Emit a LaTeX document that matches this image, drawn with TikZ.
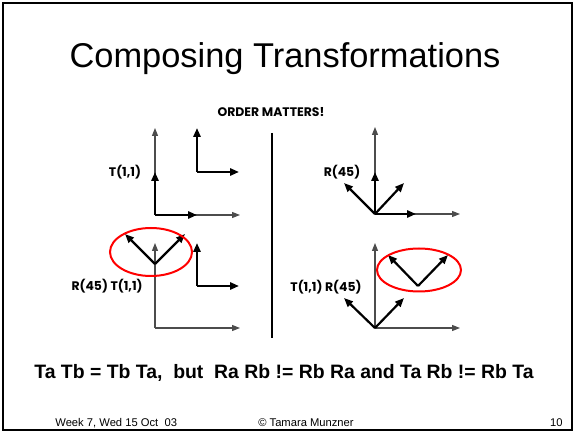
\documentclass[tikz,border=0pt]{standalone}
\usepackage{fontspec}
\setmainfont{Liberation Sans}
\newfontfamily\lblfont{Poppins}
\usetikzlibrary{arrows.meta,shapes.geometric}

\begin{document}
\begin{tikzpicture}[
x=0.5pt,y=-0.5pt,
axis/.style={-{Triangle[length=4pt,width=3pt]},line width=0.55pt,black!70},
frm/.style={-{Triangle[length=4.5pt,width=3.6pt]},line width=1.1pt},
lbl/.style={font=\lblfont\bfseries\fontsize{6.2}{7}\selectfont,inner sep=0pt},
foot/.style={font=\fontsize{5.6}{7}\selectfont,inner sep=0pt},
hilite/.style={draw=red,line width=1pt,ellipse,inner sep=0pt}]
\useasboundingbox (0,0) rectangle (574,433);
\draw[line width=1pt] (2.5,3.5) rectangle (571.5,429.5);
\node[anchor=base,font=\fontsize{17.2}{20}\selectfont] (title) at (285,68) {Composing Transformations};
\node[lbl] (order) at (271,112) {ORDER MATTERS!};
% top left
\coordinate (a0) at (155,215);
\coordinate (a0x) at (240,215);
\coordinate (a0y) at (155,128);
\coordinate (a1x) at (197,215);
\coordinate (a1y) at (155,172);
\coordinate (b0) at (197,172);
\coordinate (b0x) at (239,172);
\coordinate (b0y) at (197,128);
\draw[axis] (a0)--(a0x);
\draw[axis] (a0)--(a0y);
\draw[frm] (a0)--(a1x);
\draw[frm] (a0)--(a1y);
\draw[frm] (b0)--(b0x);
\draw[frm] (b0)--(b0y);
\node[lbl] (t11) at (125,172) {T(1,1)};
% bottom left
\coordinate (c0) at (155,328);
\coordinate (c0x) at (240,328);
\coordinate (c0y) at (155,243);
\coordinate (c1) at (155,264);
\coordinate (c1l) at (125,234);
\coordinate (c1r) at (185,234);
\coordinate (d0) at (197,286);
\coordinate (d0x) at (239,286);
\coordinate (d0y) at (197,243);
\draw[axis] (c0)--(c0x);
\draw[axis] (c0)--(c0y);
\draw[frm] (c1)--(c1l);
\draw[frm] (c1)--(c1r);
\draw[frm] (d0)--(d0x);
\draw[frm] (d0)--(d0y);
\node[hilite,minimum width=41pt,minimum height=24pt] (ring1) at (151,252) {};
\node[lbl,anchor=east] (r45t11) at (143,286) {R(45) T(1,1)};
% top right
\coordinate (e0) at (375,214);
\coordinate (e0x) at (460,214);
\coordinate (e0y) at (375,127);
\coordinate (e1x) at (416,214);
\coordinate (e1y) at (375,172);
\coordinate (e1l) at (344,183);
\coordinate (e1r) at (404,183);
\draw[axis] (e0)--(e0x);
\draw[axis] (e0)--(e0y);
\draw[frm] (e0)--(e1x);
\draw[frm] (e0)--(e1y);
\draw[frm] (e0)--(e1l);
\draw[frm] (e0)--(e1r);
\node[lbl] (r45) at (342,172) {R(45)};
% bottom right
\coordinate (f0) at (375,328);
\coordinate (f0x) at (460,328);
\coordinate (f0y) at (375,243);
\coordinate (f1l) at (344,298);
\coordinate (f1r) at (404,298);
\coordinate (g0) at (418,286);
\coordinate (g0l) at (388,255);
\coordinate (g0r) at (448,255);
\draw[axis] (f0)--(f0x);
\draw[axis] (f0)--(f0y);
\draw[frm] (f0)--(f1l);
\draw[frm] (f0)--(f1r);
\draw[frm] (g0)--(g0l);
\draw[frm] (g0)--(g0r);
\node[hilite,minimum width=42pt,minimum height=21.5pt] (ring2) at (419,270) {};
\node[lbl] (t11r45) at (326,287) {T(1,1) R(45)};
% divider
\coordinate (divtop) at (272,133);
\coordinate (divbot) at (272,338);
\draw[line width=1pt] (divtop)--(divbot);
\node[anchor=base,font=\bfseries\fontsize{9.7}{12}\selectfont] (rule) at (284,379) {Ta Tb = Tb Ta,\ \ but\ \ Ra Rb != Rb Ra and Ta Rb != Rb Ta};
\node[foot,anchor=base west] (week) at (55,427) {Week 7, Wed 15 Oct\ \ 03};
\node[foot,anchor=base] (copy) at (306,427) {© Tamara Munzner};
\node[foot,anchor=base east] (page) at (563,427) {10};
\end{tikzpicture}
\end{document}
